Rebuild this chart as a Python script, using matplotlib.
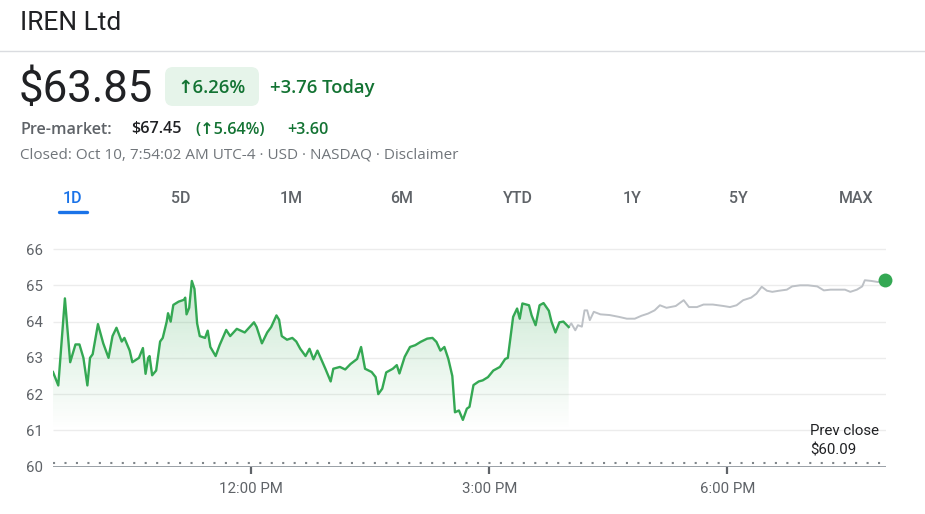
import matplotlib
matplotlib.use("Agg")
import matplotlib.pyplot as plt
from matplotlib.patches import FancyBboxPatch
import numpy as np

# regular session, minutes after 9:30 AM and price
reg_min = [0, 4, 9, 13, 17, 20, 23, 26, 28, 30, 34, 38, 42, 45, 48, 52, 54, 58, 60, 65,
           68, 70, 72, 73, 75, 78, 81, 83, 86, 87, 89, 91, 95, 99, 100, 101, 103, 105, 107, 109,
           111, 115, 117, 119, 123, 126, 131, 134, 139, 145, 152, 154, 158, 162, 165, 169, 171, 173, 177, 181,
           184, 187, 191, 194, 197, 200, 206, 210, 212, 217, 221, 225, 230, 233, 236, 241, 244, 246, 249, 252,
           257, 260, 262, 266, 270, 274, 278, 283, 287, 290, 293, 296, 299, 302, 304, 307, 310, 313, 315, 318,
           322, 325, 329, 333, 338, 342, 344, 348, 351, 353, 355, 360, 362, 365, 368, 371, 375, 377, 380, 383,
           386, 390]
reg_price = [62.61, 62.24, 64.64, 62.88, 63.37, 63.37, 63.0, 62.24, 63.0, 63.1, 63.93, 63.4, 63.0, 63.6, 63.83, 63.45, 63.55, 63.2, 62.88, 63.0,
             63.27, 62.56, 63.0, 63.05, 62.52, 62.65, 63.45, 63.55, 64.0, 64.23, 64.0, 64.46, 64.55, 64.6, 64.66, 64.2, 64.38, 65.12, 64.9, 63.95,
             63.6, 63.55, 63.75, 63.3, 63.05, 63.35, 63.77, 63.6, 63.8, 63.7, 63.98, 63.85, 63.4, 63.7, 63.85, 64.17, 64.05, 63.6, 63.5, 63.55,
             63.45, 63.25, 63.05, 63.25, 62.96, 63.2, 62.7, 62.35, 62.7, 62.75, 62.68, 62.83, 62.97, 63.3, 62.7, 62.61, 62.47, 62.0, 62.15, 62.6,
             62.7, 62.8, 62.57, 63.03, 63.3, 63.35, 63.44, 63.53, 63.55, 63.44, 63.2, 63.3, 62.97, 62.5, 61.5, 61.55, 61.29, 61.6, 61.65, 62.25,
             62.35, 62.38, 62.47, 62.65, 62.75, 62.97, 63.0, 64.13, 64.36, 64.08, 64.5, 64.45, 64.17, 63.9, 64.45, 64.51, 64.3, 64.0, 63.7, 63.98,
             64.0, 63.85]

# after hours
ah_min = [390, 392, 395, 397, 400, 402, 404, 406, 409, 414, 421, 428, 434, 440, 445, 450, 455, 459, 464, 471,
          477, 481, 487, 492, 499, 507, 512, 517, 522, 528, 532, 536, 540, 544, 549, 555, 559, 565, 571, 578,
          583, 588, 594, 599, 603, 608, 612, 614, 619, 624, 629]
ah_price = [63.85, 63.95, 63.76, 63.9, 63.86, 64.31, 64.31, 64.04, 64.27, 64.2, 64.18, 64.13, 64.08, 64.08, 64.16, 64.22, 64.31, 64.45, 64.38, 64.43,
            64.59, 64.4, 64.4, 64.47, 64.47, 64.43, 64.4, 64.45, 64.59, 64.66, 64.77, 64.96, 64.85, 64.82, 64.85, 64.88, 64.97, 65.0, 65.0, 64.97,
            64.86, 64.88, 64.88, 64.88, 64.82, 64.88, 64.97, 65.14, 65.12, 65.09, 65.16]

y_ticks = [60, 61, 62, 63, 64, 65, 66]
x_tick_min = [150, 330, 510]
x_tick_labels = ["12:00 PM", "3:00 PM", "6:00 PM"]
prev_close = 60.09
tabs = ["1D", "5D", "1M", "6M", "YTD", "1Y", "5Y", "MAX"]
tab_x = [73, 181, 291, 402, 518, 632, 738, 856]

W, H = 925, 514
GREEN = "#34a853"
DKGREEN = "#137333"
GREY = "#5f6368"
FONT = ["Roboto", "DejaVu Sans"]
WIDE = ["Open Sans", "DejaVu Sans"]
plt.rcParams['font.family'] = FONT

def fx(x):
    return x / W

def fy(y):
    return 1 - y / H

fig = plt.figure(figsize=(W / 100, H / 100), dpi=100)
fig.patch.set_facecolor("white")

# header
fig.text(fx(20), fy(29.5), "IREN Ltd", fontsize=19, color="#202124", va="baseline")
fig.add_artist(plt.Line2D([0, 1], [fy(51), fy(51)], color="#dadce0", lw=1))
fig.text(fx(19), fy(102), "$63.85", fontsize=31.5, color="#202124", va="baseline")
pill = FancyBboxPatch((165, H - 106), 94, 39, boxstyle="round,pad=0,rounding_size=8",
                      transform=None, facecolor="#e6f4ea", edgecolor="none")
fig.add_artist(pill)
fig.text(fx(212), fy(93), "↑6.26%", fontsize=13.3, color=DKGREEN, va="baseline", ha="center",
         weight="semibold", family=WIDE)
fig.text(fx(270), fy(93), "+3.76 Today", fontsize=13.3, color=DKGREEN, va="baseline",
         weight="semibold", family=WIDE)

fig.text(fx(20), fy(133.5), "Pre-market:", fontsize=11.6, color=GREY, va="baseline", weight="semibold", family=WIDE)
fig.text(fx(131), fy(133.5), "$67.45", fontsize=11.6, color="#202124", va="baseline", weight="semibold", family=WIDE)
fig.text(fx(195), fy(133.5), "(↑5.64%)", fontsize=11.6, color=DKGREEN, va="baseline", weight="semibold", family=WIDE)
fig.text(fx(287), fy(133.5), "+3.60", fontsize=11.6, color=DKGREEN, va="baseline", weight="semibold", family=WIDE)
fig.text(fx(20), fy(158.5), "Closed: Oct 10, 7:54:02 AM UTC-4 · USD · NASDAQ · Disclaimer",
         fontsize=11, color="#70757a", va="baseline", family=WIDE)

# range tabs
for t, x in zip(tabs, tab_x):
    c = "#1a73e8" if t == "1D" else GREY
    fig.text(fx(x), fy(203), t, fontsize=11.5, color=c, ha="center", va="baseline", weight="medium")
fig.add_artist(plt.Line2D([fx(59), fx(87)], [fy(211.5), fy(211.5)], color="#1a73e8", lw=2.4,
                          solid_capstyle="round"))

# chart axes: x 53..886 px, y 60 at 466.7, 66 at 249
ax_l, ax_r = 53, 886
ax_b, ax_t = 466.7, 249 - 0.3 * 36.17
ax = fig.add_axes([fx(ax_l), fy(ax_b), (ax_r - ax_l) / W, (ax_b - ax_t) / H])
ax.set_xlim(0, 630)
ax.set_ylim(60, 66.3)
ax.set_facecolor("none")
for s in ax.spines.values():
    s.set_visible(False)

ax.hlines(y_ticks[1:], 0, 630, color="#ececec", lw=1, zorder=1)
ax.axhline(60, color="#9aa0a6", lw=1.4, zorder=2)
ax.plot([0, 630], [prev_close, prev_close], color="#80868b", lw=1.5,
        linestyle=(0, (1, 4.5)), zorder=2)

# gradient fill under regular session
poly = ax.fill_between(reg_min, reg_price, 61.0, facecolor="none", edgecolor="none")
grad = np.zeros((100, 1, 4))
grad[:, 0, :3] = matplotlib.colors.to_rgb(GREEN)
grad[:, 0, 3] = np.linspace(0.26, 0.0, 100)
im = ax.imshow(grad, extent=(0, 390, 61.0, 65.2), aspect="auto", origin="upper", zorder=2)
im.set_clip_path(poly.get_paths()[0], transform=ax.transData)

ax.plot(ah_min, ah_price, color="#bdc1c6", lw=1.4, zorder=3, solid_joinstyle="round")
ax.plot(reg_min, reg_price, color=GREEN, lw=1.7, zorder=4, solid_joinstyle="round")
ax.plot([ah_min[-1]], [ah_price[-1]], "o", color=GREEN, ms=10, mec="none", zorder=5, clip_on=False)

ax.set_yticks(y_ticks)
ax.set_yticklabels([str(v) for v in y_ticks])
ax.tick_params(axis="y", length=0, pad=7.5, labelsize=10.8, labelcolor=GREY)
ax.set_xticks(x_tick_min)
ax.set_xticklabels(x_tick_labels)
ax.tick_params(axis="x", length=5, width=1.6, color="#5f6368", pad=6, labelsize=10.8, labelcolor=GREY)

fig.text(fx(810), fy(435), "Prev close", fontsize=10.8, color="#202124", va="baseline")
fig.text(fx(810), fy(455), "$60.09", fontsize=10.8, color="#202124", va="baseline")

fig.savefig("out.png", dpi=100, facecolor="white")
